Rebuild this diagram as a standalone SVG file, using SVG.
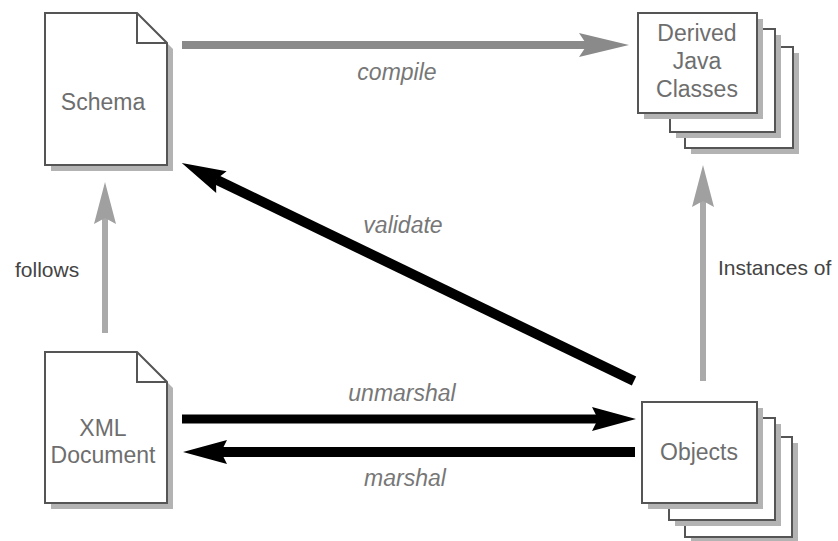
<svg xmlns="http://www.w3.org/2000/svg" width="838" height="541" viewBox="0 0 838 541">
  <style>
    .page { fill: #ffffff; stroke: #555555; stroke-width: 2; stroke-linejoin: miter; }
    .fold { fill: none; stroke: #555555; stroke-width: 2; }
    .shadow { fill: #b3b3b3; }
    .label { font-family: "Liberation Sans", Arial, sans-serif; font-size: 23px; fill: #6e6e6e; text-anchor: middle; }
    .verb { font-family: "Liberation Sans", Arial, sans-serif; font-size: 23px; font-style: italic; fill: #777777; text-anchor: middle; }
    .note { font-family: "Liberation Sans", Arial, sans-serif; font-size: 21px; fill: #444444; }
    .dark { fill: none; stroke: #000000; }
    .gray { fill: none; stroke: #8a8a8a; stroke-width: 8; }
    .light { fill: none; stroke: #aaaaaa; stroke-width: 6; }
  </style>
  <defs>
    <marker id="head-dark" markerUnits="userSpaceOnUse" markerWidth="46" markerHeight="28" refX="6" refY="14" orient="auto" overflow="visible">
      <path d="M0,2 L44,14 L0,26 L6,14 Z" fill="#000000"/>
    </marker>
    <marker id="head-gray" markerUnits="userSpaceOnUse" markerWidth="52" markerHeight="26" refX="8" refY="12" orient="auto" overflow="visible">
      <path d="M0,0 L50,12 L0,24 L8,12 Z" fill="#8a8a8a"/>
    </marker>
    <marker id="head-light" markerUnits="userSpaceOnUse" markerWidth="44" markerHeight="24" refX="6" refY="11" orient="auto" overflow="visible">
      <path d="M0,0 L42,11 L0,22 L6,11 Z" fill="#a0a0a0"/>
    </marker>
  </defs>

  <rect width="838" height="541" fill="#ffffff"/>

  <!-- connectors -->
  <g id="connectors">
    <g id="compile">
      <line class="gray" x1="182" y1="45" x2="587" y2="45" marker-end="url(#head-gray)"/>
      <text class="verb" x="397" y="80">compile</text>
    </g>
    <g id="validate">
      <line class="dark" stroke-width="10" x1="634" y1="381" x2="216" y2="179.5" marker-end="url(#head-dark)"/>
      <text class="verb" x="403" y="233">validate</text>
    </g>
    <g id="unmarshal">
      <line class="dark" stroke-width="9" x1="182" y1="419" x2="598" y2="419" marker-end="url(#head-dark)"/>
      <text class="verb" x="402" y="401">unmarshal</text>
    </g>
    <g id="marshal">
      <line class="dark" stroke-width="10" x1="635" y1="452" x2="221" y2="452" marker-end="url(#head-dark)"/>
      <text class="verb" x="405" y="486">marshal</text>
    </g>
    <g id="follows">
      <line class="light" x1="105" y1="333" x2="105" y2="218" marker-end="url(#head-light)"/>
      <text class="note" x="15" y="277">follows</text>
    </g>
    <g id="instances-of">
      <line class="light" x1="703" y1="381" x2="703" y2="201" marker-end="url(#head-light)"/>
      <text class="note" x="718" y="275">Instances of</text>
    </g>
  </g>

  <!-- Schema document -->
  <g id="schema">
    <path class="shadow" d="M51,19 H143 L173,49 V171 H51 Z"/>
    <path class="page" d="M45,13 H137 L167,43 V165 H45 Z"/>
    <path class="fold" d="M137,13 V43 H167"/>
    <text class="label" x="103" y="110">Schema</text>
  </g>

  <!-- XML document -->
  <g id="xml-document">
    <path class="shadow" d="M51,358 H143 L173,388 V509 H51 Z"/>
    <path class="page" d="M45,352 H137 L167,382 V503 H45 Z"/>
    <path class="fold" d="M137,352 V382 H167"/>
    <text class="label" x="103" y="436">XML</text>
    <text class="label" x="103" y="463">Document</text>
  </g>

  <!-- Derived Java Classes: stack of three pages -->
  <g id="derived-classes">
    <rect class="shadow" x="691" y="53" width="108" height="101"/>
    <rect class="page" x="685" y="47" width="108" height="101"/>
    <rect class="shadow" x="676" y="35" width="105" height="103"/>
    <rect class="page" x="670" y="29" width="105" height="103"/>
    <rect class="shadow" x="644" y="19" width="119" height="100"/>
    <rect class="page" x="638" y="13" width="119" height="100"/>
    <text class="label" x="697" y="41">Derived</text>
    <text class="label" x="697" y="69">Java</text>
    <text class="label" x="697" y="97">Classes</text>
  </g>

  <!-- Objects: stack of three pages -->
  <g id="objects">
    <rect class="shadow" x="691" y="443" width="107" height="100"/>
    <rect class="page" x="685" y="437" width="107" height="100"/>
    <rect class="shadow" x="675" y="424" width="106" height="102"/>
    <rect class="page" x="669" y="418" width="106" height="102"/>
    <rect class="shadow" x="648" y="408" width="115" height="101"/>
    <rect class="page" x="642" y="402" width="115" height="101"/>
    <text class="label" x="699" y="460">Objects</text>
  </g>
</svg>
